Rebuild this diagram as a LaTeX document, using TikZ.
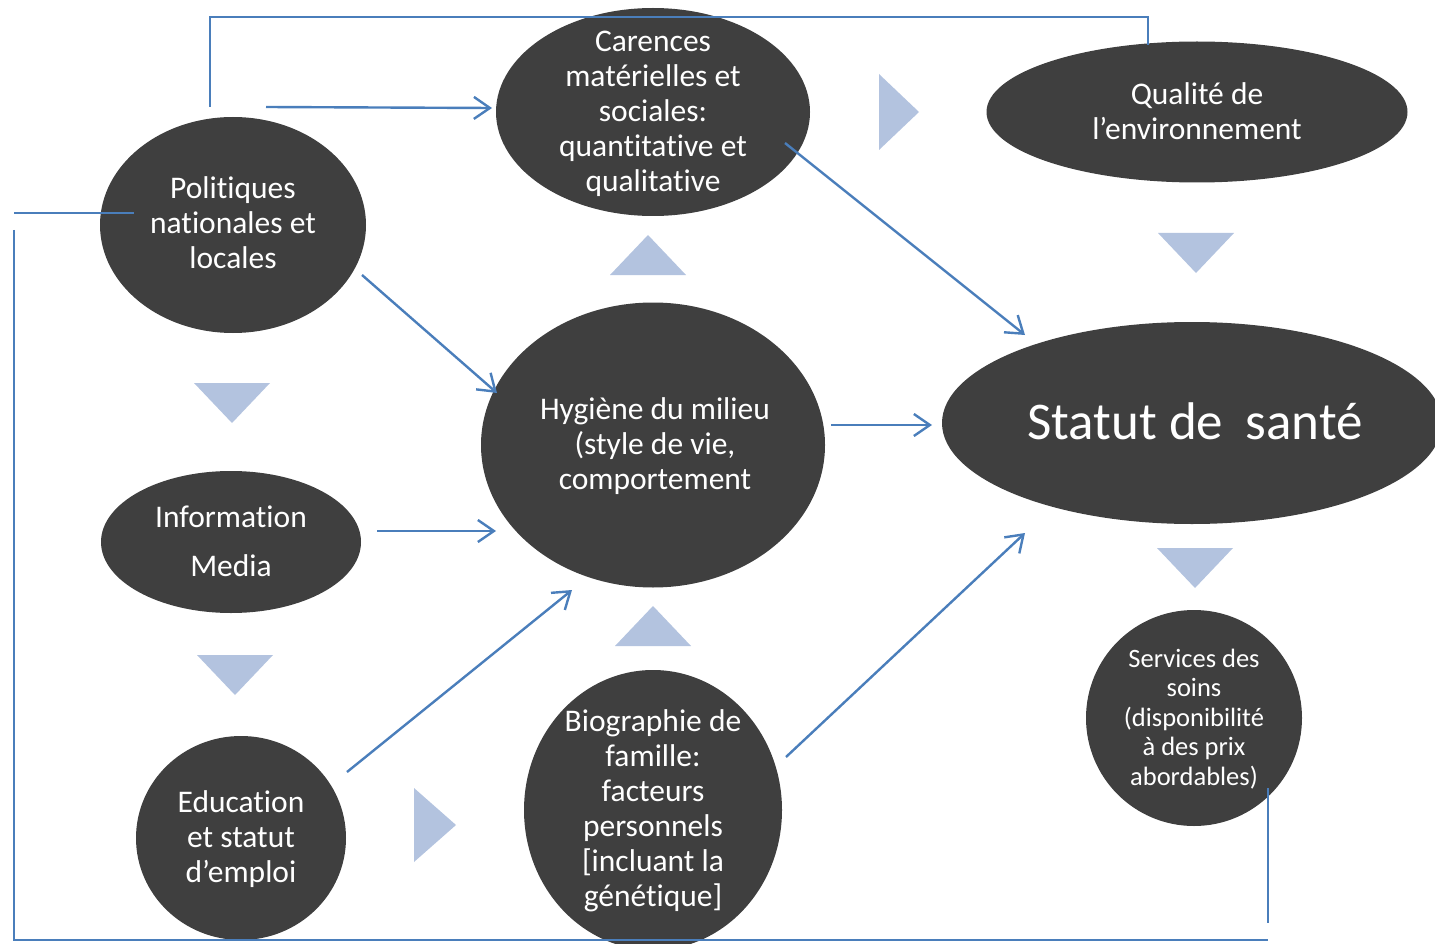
\documentclass[tikz,border=0pt]{standalone}
\usepackage{fontspec}
\setmainfont{Carlito}[Ligatures=NoCommon]
\usepackage{tikz}
\usetikzlibrary{arrows.meta,shapes.geometric}
\definecolor{bubblegrey}{HTML}{3F3F3F}
\definecolor{linkblue}{HTML}{4A7EBB}
\definecolor{triblue}{HTML}{B3C3DF}
\begin{document}
\begin{tikzpicture}[
x=1pt,y=-1pt,
bubble/.style={ellipse,fill=bubblegrey,inner sep=0pt},
txt/.style={text=white,align=center,inner sep=0pt,font=\fontsize{31.5}{35}\selectfont},
arr/.style={-{Straight Barb[length=16pt,width=22pt]},linkblue,line width=2.4pt},
ln/.style={linkblue,line width=2.4pt},
tri/.style={fill=triblue}
]
\clip (0,0) rectangle (1435,944);
% bubbles
\node[bubble,minimum width=266,minimum height=216] (pol) at (233,225) {};
\node[bubble,minimum width=314,minimum height=208] (car) at (653,112) {};
\node[bubble,minimum width=421,minimum height=141] (qua) at (1197,112) {};
\node[bubble,minimum width=344,minimum height=285] (hyg) at (653,445) {};
\node[bubble,minimum width=500,minimum height=202] (sta) at (1192,423) {};
\node[bubble,minimum width=260,minimum height=142] (inf) at (231,542) {};
\node[bubble,minimum width=210,minimum height=204] (edu) at (241,838) {};
\node[bubble,minimum width=258,minimum height=280] (bio) at (653,810) {};
\node[bubble,minimum width=216,minimum height=216] (ser) at (1194,718) {};
% texts
\node[txt] (pol-t) at (233,223) {Politiques\\nationales et\\locales};
\node[txt] (car-t) at (653,114) {Carences\\matérielles et\\sociales:\\quantitative et\\qualitative};
\node[txt] (qua-t) at (1197,111) {Qualité de\\l’environnement};
\node[txt] (hyg-t) at (655,446) {Hygiène du milieu\\(style de vie,\\comportement};
\node[txt,font=\fontsize{53}{60}\selectfont] (sta-t) at (1195,421) {Statut de\hspace{0.42em}santé};
\node[txt,font=\fontsize{31.5}{49}\selectfont] (inf-t) at (231,541) {Information\\Media};
\node[txt] (edu-t) at (241,839) {Education\\et statut\\d’emploi};
\node[txt] (bio-t) at (653,811) {Biographie de\\famille:\\facteurs\\personnels\\{[incluant la}\\génétique]};
\node[txt,font=\fontsize{26.5}{29.5}\selectfont] (ser-t) at (1194,719) {Services des\\soins\\(disponibilité\\à des prix\\abordables)};
% triangles
\fill[tri] (879,74) -- (919,112) -- (879,150) -- cycle;
\fill[tri] (194,383) -- (270,383) -- (232,423) -- cycle;
\fill[tri] (197,655) -- (273,655) -- (235,695) -- cycle;
\fill[tri] (414,788) -- (456,825) -- (414,862) -- cycle;
\fill[tri] (610,275) -- (686,275) -- (648,235) -- cycle;
\fill[tri] (615,646) -- (691,646) -- (653,606) -- cycle;
\fill[tri] (1158,233) -- (1234,233) -- (1196,273) -- cycle;
\fill[tri] (1157,548) -- (1233,548) -- (1195,588) -- cycle;
% connector ends
\coordinate (pol-up) at (210,107);
\coordinate (qua-up) at (1148,17);
\coordinate (qua-in) at (1148,45);
\coordinate (pol-out) at (266,107);
\coordinate (car-in) at (492,108);
\coordinate (pol-l) at (134,213);
\coordinate (left-top) at (14,213);
\coordinate (left-down) at (14,230);
\coordinate (bottom-r) at (1268,940);
\coordinate (ser-out) at (1268,788);
\coordinate (ser-end) at (1268,923);
\coordinate (car-out) at (785,143);
\coordinate (sta-nw) at (1025,335);
\coordinate (pol-out2) at (362,275);
\coordinate (hyg-nw) at (497,393);
\coordinate (hyg-out) at (831,425);
\coordinate (sta-in) at (932,425);
\coordinate (inf-out) at (377,531);
\coordinate (hyg-in) at (496,531);
\coordinate (edu-out) at (347,772);
\coordinate (hyg-sw) at (572,590);
\coordinate (bio-out) at (786,757);
\coordinate (sta-sw) at (1025,533);
% connectors
\draw[ln] (pol-up) |- (qua-up) -- (qua-in);
\draw[arr] (pol-out) -- (car-in);
\draw[ln] (left-top) -- (pol-l);
\draw[ln] (left-down) |- (bottom-r);
\draw[ln] (ser-out) -- (ser-end);
\draw[arr] (car-out) -- (sta-nw);
\draw[arr] (pol-out2) -- (hyg-nw);
\draw[arr] (hyg-out) -- (sta-in);
\draw[arr] (inf-out) -- (hyg-in);
\draw[arr] (edu-out) -- (hyg-sw);
\draw[arr] (bio-out) -- (sta-sw);
\end{tikzpicture}
\end{document}
